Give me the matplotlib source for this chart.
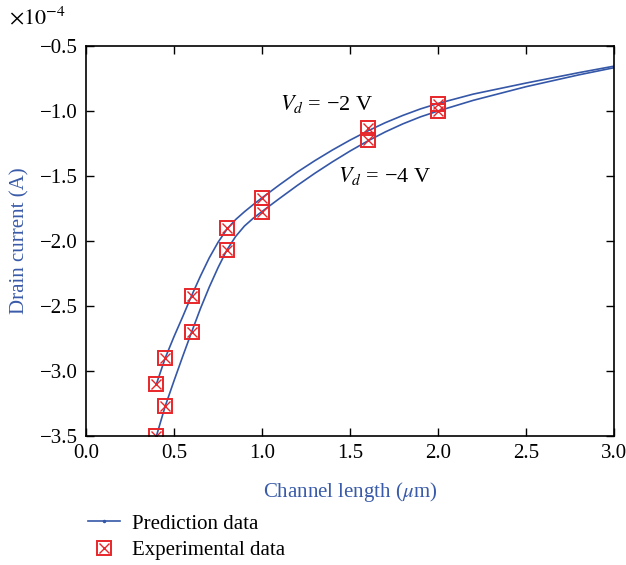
import matplotlib
matplotlib.use("Agg")
import matplotlib.pyplot as plt
from matplotlib.lines import Line2D
from matplotlib.legend_handler import HandlerTuple

plt.rcParams['font.family'] = ['Liberation Serif', 'DejaVu Serif']
plt.rcParams['mathtext.fontset'] = 'stix'

# experimental points (current in units of 1e-4 A)
exp_x = [0.4, 0.45, 0.6, 0.8, 1.0, 1.6, 2.0]
exp_vd2 = [-3.10, -2.90, -2.42, -1.90, -1.67, -1.13, -0.95]
exp_vd4 = [-3.50, -3.27, -2.70, -2.07, -1.78, -1.22, -1.00]

# prediction curves
pred_x = [0.4, 0.45, 0.5, 0.55, 0.6, 0.65, 0.7, 0.75, 0.8, 0.85, 0.9, 0.95, 1.0,
          1.1, 1.2, 1.3, 1.4, 1.5, 1.6, 1.7, 1.8, 1.9, 2.0, 2.2, 2.5, 2.8, 3.0]
pred_vd2 = [-3.10, -2.90, -2.735, -2.58, -2.42, -2.27, -2.13, -2.01, -1.91, -1.835,
            -1.775, -1.72, -1.668, -1.567, -1.47, -1.382, -1.30, -1.224, -1.154,
            -1.09, -1.034, -0.984, -0.942, -0.87, -0.785, -0.705, -0.655]
pred_vd4 = [-3.50, -3.27, -3.075, -2.885, -2.70, -2.52, -2.355, -2.205, -2.07, -1.965,
            -1.885, -1.825, -1.773, -1.672, -1.573, -1.479, -1.391, -1.308, -1.231,
            -1.161, -1.099, -1.045, -1.00, -0.918, -0.813, -0.722, -0.667]

x_ticks = [0.0, 0.5, 1.0, 1.5, 2.0, 2.5, 3.0]
y_ticks = [-3.5, -3.0, -2.5, -2.0, -1.5, -1.0, -0.5]

line_col = '#3557a8'
mark_col = '#e8262a'
label_col = '#3a5ba9'

fig = plt.figure(figsize=(6.26, 5.65), dpi=100)
ax = fig.add_axes([0.1374, 0.2283, 0.8436, 0.6903])

for ys in (pred_vd2, pred_vd4):
    ax.plot(pred_x, ys, color=line_col, lw=1.2)

for ys in (exp_vd2, exp_vd4):
    ax.plot(exp_x, ys, ls='none', marker='s', ms=9.5, mfc='none', mec=mark_col, mew=1.4)
    ax.plot(exp_x, ys, ls='none', marker='x', ms=7, mec=mark_col, mew=1.0)

ax.set_xlim(0, 3)
ax.set_ylim(-3.5, -0.5)
ax.set_xticks(x_ticks)
ax.set_yticks(y_ticks)
ax.set_xticklabels([f'{v:.1f}' for v in x_ticks])
ax.set_yticklabels([f'{v:.1f}'.replace('-', '\u2212') for v in y_ticks])
ax.tick_params(direction='in', top=True, right=True, length=6, width=1.0,
               labelsize=15, pad=6)
for s in ax.spines.values():
    s.set_linewidth(1.2)

ax.set_xlabel(r'Channel length ($\mu$m)', color=label_col, fontsize=15, labelpad=12)
ax.set_ylabel('Drain current (A)', color=label_col, fontsize=15, labelpad=7)

fig.text(0.015, 0.968, r'$\times 10^{-4}$', fontsize=16, va='center')

ax.text(1.10, -0.95, '$V_d$ = \u22122 V', fontsize=16, va='center')
ax.text(1.43, -1.50, '$V_d$ = \u22124 V', fontsize=16, va='center')

h_pred = Line2D([], [], color=line_col, lw=1.2, marker='.', ms=3)
h_sq = Line2D([], [], ls='none', marker='s', ms=9.5, mfc='none', mec=mark_col, mew=1.4)
h_x = Line2D([], [], ls='none', marker='x', ms=7, mec=mark_col, mew=1.0)
fig.legend([h_pred, (h_sq, h_x)], ['Prediction data', 'Experimental data'],
           handler_map={tuple: HandlerTuple(ndivide=1, pad=0)},
           loc='upper left', bbox_to_anchor=(0.128, 0.105), frameon=False,
           fontsize=15, handlelength=1.5, handletextpad=0.6, labelspacing=0.35,
           borderaxespad=0)

fig.savefig('out.png', dpi=100)
